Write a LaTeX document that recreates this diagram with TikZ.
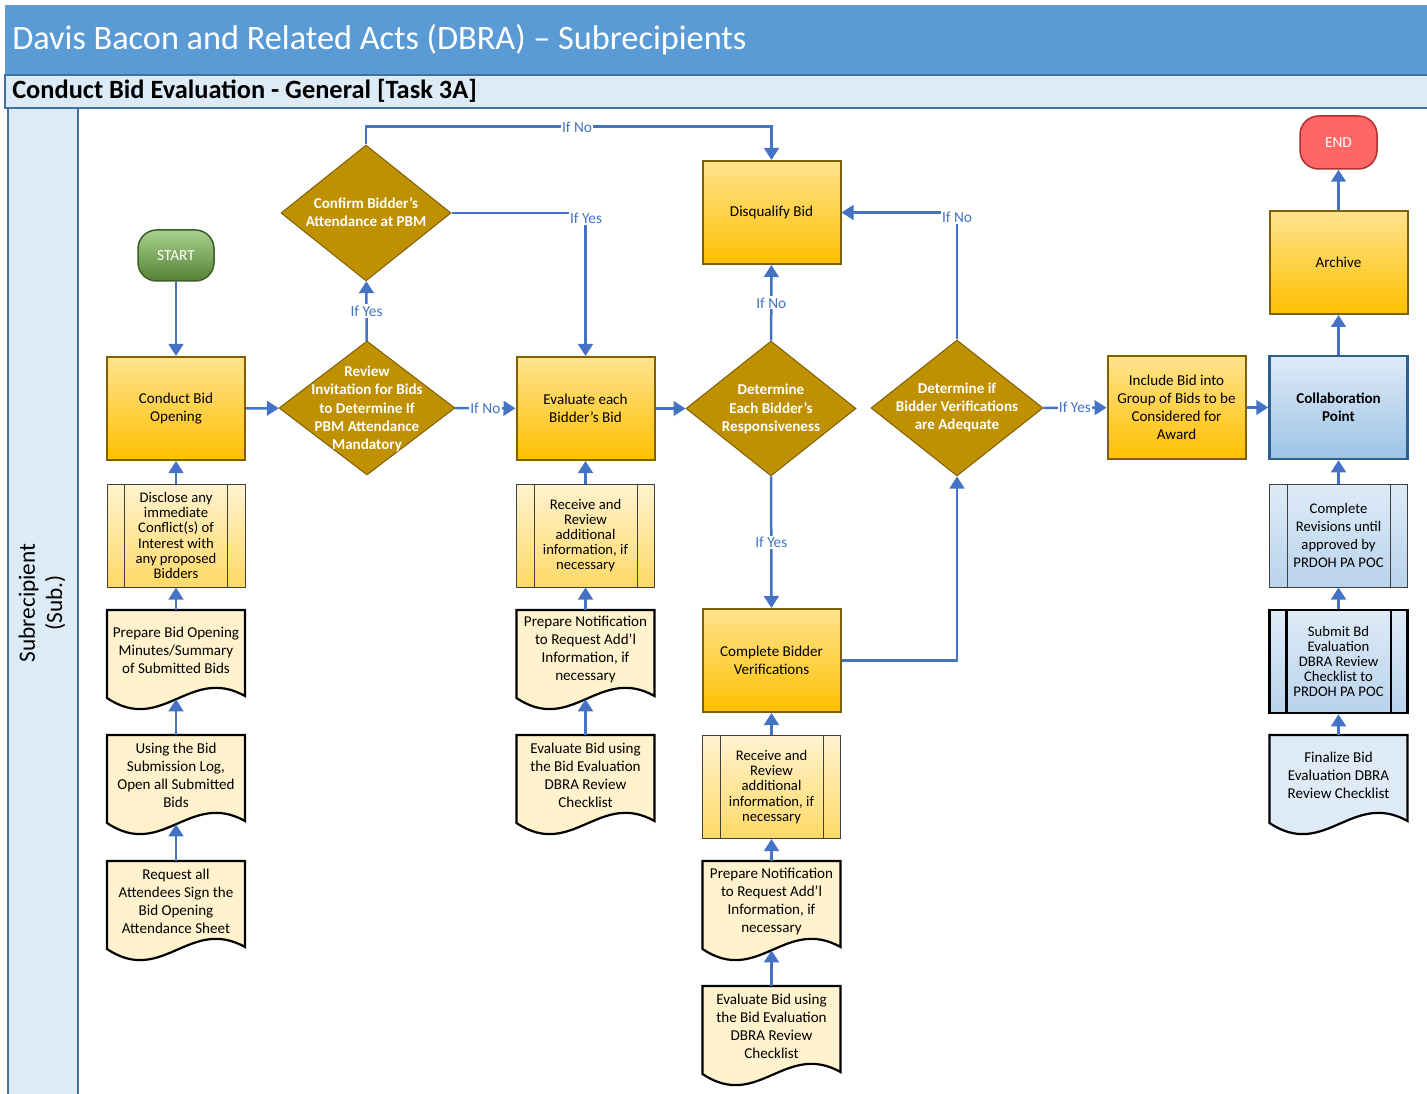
\documentclass[tikz,border=0pt]{standalone}
\usepackage{fontspec}
\setmainfont{Carlito}
\usetikzlibrary{arrows.meta,shapes.geometric,calc}

\definecolor{hdr}{HTML}{5B9BD5}
\definecolor{hdrlight}{HTML}{DDEBF7}
\definecolor{hdrline}{HTML}{41719C}
\definecolor{flow}{HTML}{4472C4}
\definecolor{goldtop}{HTML}{FFE38F}
\definecolor{goldbot}{HTML}{FFC000}
\definecolor{goldline}{HTML}{806000}
\definecolor{creamtop}{HTML}{FFF3D0}
\definecolor{creambot}{HTML}{FFD966}
\definecolor{docfill}{HTML}{FFF2CC}
\definecolor{decision}{HTML}{BF9000}
\definecolor{decline}{HTML}{7F6000}
\definecolor{bluetop}{HTML}{DEEBF7}
\definecolor{bluebot}{HTML}{9DC3E6}
\definecolor{blueline}{HTML}{2F5F8F}
\definecolor{paletop}{HTML}{DEEBF7}
\definecolor{palebot}{HTML}{B9D3EC}
\definecolor{starttop}{HTML}{A9D18E}
\definecolor{startbot}{HTML}{548235}
\definecolor{startline}{HTML}{3B5E26}
\definecolor{endfill}{HTML}{FF6666}
\definecolor{endline}{HTML}{B03030}

% one unit = one pixel of the drawing grid
\def\px{*0.75pt}

\tikzset{
  x=0.75pt, y=-0.75pt,
  txt/.style={font=\fontsize{11.3}{13.5}\selectfont, align=center, text=black},
  task/.style={txt, rectangle, draw=goldline, line width=2\px,
    top color=goldtop, bottom color=goldbot,
    minimum width=138\px, minimum height=103\px, inner sep=0pt},
  collab/.style={task, draw=blueline, line width=2.5\px,
    top color=bluetop, bottom color=bluebot,
    font=\bfseries\fontsize{11.3}{13.5}\selectfont},
  subproc/.style={rectangle, align=center, font=\fontsize{11}{11.4}\selectfont,
    draw=black!75, line width=1\px, top color=creamtop, bottom color=creambot,
    minimum width=138\px, minimum height=103\px, inner sep=0pt},
  bluesub/.style={subproc, top color=paletop, bottom color=palebot},
  thinbar/.style={draw=black!75, line width=1\px},
  thickbar/.style={draw=black, line width=2.5\px},
  docbox/.style={rectangle, draw=none, minimum width=138\px,
    minimum height=89\px, inner sep=0pt},
  docline/.style={draw=black, line width=2.2\px},
  doctext/.style={txt, inner sep=0pt},
  diam/.style={diamond, draw=decline, line width=1\px, fill=decision,
    inner sep=0pt},
  diamtext/.style={align=center, text=white,
    font=\bfseries\fontsize{11.3}{13.6}\selectfont, inner sep=0pt},
  terminal/.style={rectangle, rounded corners=14pt, text=white,
    font=\fontsize{11.5}{13}\selectfont, inner sep=0pt},
  flowarrow/.style={draw=flow, line width=2.5\px,
    -{Triangle[length=9pt,width=11pt]}},
  lbl/.style={fill=white, text=flow, inner sep=1pt,
    font=\fontsize{11.5}{13}\selectfont},
}

% predefined-process box: a rectangle with a bar near each side
\newcommand\predef[6]{%
  \node[#4] (#1) at (#2,#3) {#6};
  \draw[#5] ([xshift=18\px]#1.north west) -- ([xshift=18\px]#1.south west)
            ([xshift=-18\px]#1.north east) -- ([xshift=-18\px]#1.south east);
}

% document box: wavy bottom edge; #1 name, #2 centre x, #3 top y, #4 fill, #5 text
\newcommand\docshape[5]{%
  \node[docbox] (#1) at ({#2},{#3+44.5}) {};
  \filldraw[docline, fill=#4] ({#2-69},{#3}) -- ({#2+69},{#3}) -- ({#2+69},{#3+86})
    .. controls ({#2+13.8},{#3+55}) and ({#2-13.8},{#3+125}) .. ({#2-69},{#3+88}) -- cycle;
  \node[doctext] (#1-t) at ({#2},{#3+40}) {#5};
}

\begin{document}
\begin{tikzpicture}
\useasboundingbox (0,0) rectangle (1427,1094);
\fill[white] (0,0) rectangle (1427,1094);

% header bands
\fill[hdr] (5,5) rectangle (1427,75);
\filldraw[fill=hdrlight, draw=hdrline, line width=1.2\px] (5,75) rectangle (1430,108);
\node[anchor=west, text=white, font=\fontsize{25.7}{30}\selectfont, inner sep=0pt]
  (title) at (12,40) {Davis Bacon and Related Acts (DBRA) – Subrecipients};
\node[anchor=west, font=\bfseries\fontsize{19.8}{23}\selectfont, inner sep=0pt]
  (subtitle) at (12,91) {Conduct Bid Evaluation - General [Task 3A]};

% swimlane
\filldraw[fill=hdrlight, draw=hdrline, line width=1.5\px] (8,108) rectangle (78,1100);
\node[rotate=90, align=center, font=\fontsize{17.5}{20.5}\selectfont]
  (lane) at (42,603) {Subrecipient\\(Sub.)};

% terminals
\node[terminal, top color=starttop, bottom color=startbot, draw=startline,
  line width=1.5\px, minimum width=76\px, minimum height=51\px] (start) at (176,255.5) {START};
\node[terminal, fill=endfill, draw=endline, line width=1.5\px,
  minimum width=77\px, minimum height=53\px] (end) at (1338.5,142.5) {END};

% main tasks
\node[task] (conduct) at (176,408.5) {Conduct Bid\\Opening};
\node[task] (evaluate) at (585.5,408.5) {Evaluate each\\Bidder’s Bid};
\node[task] (disqualify) at (771.5,212.5) {Disqualify Bid};
\node[task] (verify) at (771.5,660.5) {Complete Bidder\\Verifications};
\node[task] (include) at (1176.5,407.5) {Include Bid into\\Group of Bids to be\\Considered for\\Award};
\node[task] (archive) at (1338.5,262.5) {Archive};
\node[collab] (collab) at (1338.5,407.5) {Collaboration\\Point};

% decisions
\node[diam, minimum width=176\px, minimum height=134\px] (review) at (367,408) {};
\node[diamtext] (review-t) at (367,409) {Review\\Invitation for Bids\\to Determine If\\PBM Attendance\\Mandatory};
\node[diam, minimum width=170\px, minimum height=136\px] (confirm) at (366,213) {};
\node[diamtext] (confirm-t) at (366,212) {Confirm Bidder’s\\Attendance at PBM};
\node[diam, minimum width=170\px, minimum height=135\px] (respons) at (771,408.5) {};
\node[diamtext] (respons-t) at (771,409) {Determine\\Each Bidder’s\\Responsiveness};
\node[diam, minimum width=172\px, minimum height=136\px] (adequate) at (957,408) {};
\node[diamtext] (adequate-t) at (957,407.5) {Determine if\\Bidder Verifications\\are Adequate};

% supporting steps, first column
\predef{disclose}{176}{535.5}{subproc}{thinbar}{Disclose any\\immediate\\Conflict(s) of\\Interest with\\any proposed\\Bidders}
\docshape{minutes}{176}{610}{docfill}{Prepare Bid Opening\\Minutes/Summary\\of Submitted Bids}
\docshape{openbids}{176}{735}{docfill}{Using the Bid\\Submission Log,\\Open all Submitted\\Bids}
\docshape{attend}{176}{861}{docfill}{Request all\\Attendees Sign the\\Bid Opening\\Attendance Sheet}

% supporting steps, second column
\predef{receiveA}{585.5}{535.5}{subproc}{thinbar}{Receive and\\Review\\additional\\information, if\\necessary}
\docshape{notifyA}{585.5}{610}{docfill}{Prepare Notification\\to Request Add’l\\Information, if\\necessary}
\docshape{checkA}{585.5}{735}{docfill}{Evaluate Bid using\\the Bid Evaluation\\DBRA Review\\Checklist}

% supporting steps, third column
\predef{receiveB}{771.5}{787}{subproc}{thinbar}{Receive and\\Review\\additional\\information, if\\necessary}
\docshape{notifyB}{771.5}{861}{docfill}{Prepare Notification\\to Request Add’l\\Information, if\\necessary}
\docshape{checkB}{771.5}{986}{docfill}{Evaluate Bid using\\the Bid Evaluation\\DBRA Review\\Checklist}

% supporting steps, last column
\predef{revise}{1338.5}{535.5}{bluesub, font=\fontsize{11}{13.5}\selectfont}{thinbar}{Complete\\Revisions until\\approved by\\PRDOH PA POC}
\predef{submit}{1338.5}{661.5}{bluesub, draw=black, line width=2.5\px}{thickbar}{Submit Bd\\Evaluation\\DBRA Review\\Checklist to\\PRDOH PA POC}
\docshape{finalize}{1338.5}{735}{paletop}{Finalize Bid\\Evaluation DBRA\\Review Checklist}

% main flow
\draw[flowarrow] (start) -- (conduct);
\draw[flowarrow] (conduct) -- (review);
\draw[flowarrow] (review) -- node[lbl] {If No} (evaluate);
\draw[flowarrow] (review) -- node[lbl] {If Yes} (confirm);
\draw[flowarrow] (confirm.east) -| (evaluate.north);
\node[lbl] (conf-yes) at (586,218) {If Yes};
\draw[flowarrow] (confirm.north) -- ++(0,-18) -| (disqualify.north);
\node[lbl] (conf-no) at (577,127) {If No};
\draw[flowarrow] (evaluate) -- (respons);
\draw[flowarrow] (respons) -- node[lbl] {If No} (disqualify);
\draw[flowarrow] (respons) -- node[lbl] {If Yes} (verify);
\draw[flowarrow] (verify.east) -| (adequate.south);
\draw[flowarrow] (adequate.north) |- (disqualify.east);
\node[lbl] (adeq-no) at (957,217) {If No};
\draw[flowarrow] (adequate) -- node[lbl] {If Yes} (include);
\draw[flowarrow] (include) -- (collab);
\draw[flowarrow] (collab) -- (archive);
\draw[flowarrow] (archive) -- (end);

% supporting flows
\draw[flowarrow] (disclose.north) -- (conduct.south);
\draw[flowarrow] (minutes.north) -- (disclose.south);
\draw[flowarrow] (openbids.north) -- (minutes.south);
\draw[flowarrow] (attend.north) -- (openbids.south);
\draw[flowarrow] (receiveA.north) -- (evaluate.south);
\draw[flowarrow] (notifyA.north) -- (receiveA.south);
\draw[flowarrow] (checkA.north) -- (notifyA.south);
\draw[flowarrow] (receiveB.north) -- (verify.south);
\draw[flowarrow] (notifyB.north) -- (receiveB.south);
\draw[flowarrow] (checkB.north) -- (notifyB.south);
\draw[flowarrow] (revise.north) -- (collab.south);
\draw[flowarrow] (submit.north) -- (revise.south);
\draw[flowarrow] (finalize.north) -- (submit.south);
\end{tikzpicture}
\end{document}
